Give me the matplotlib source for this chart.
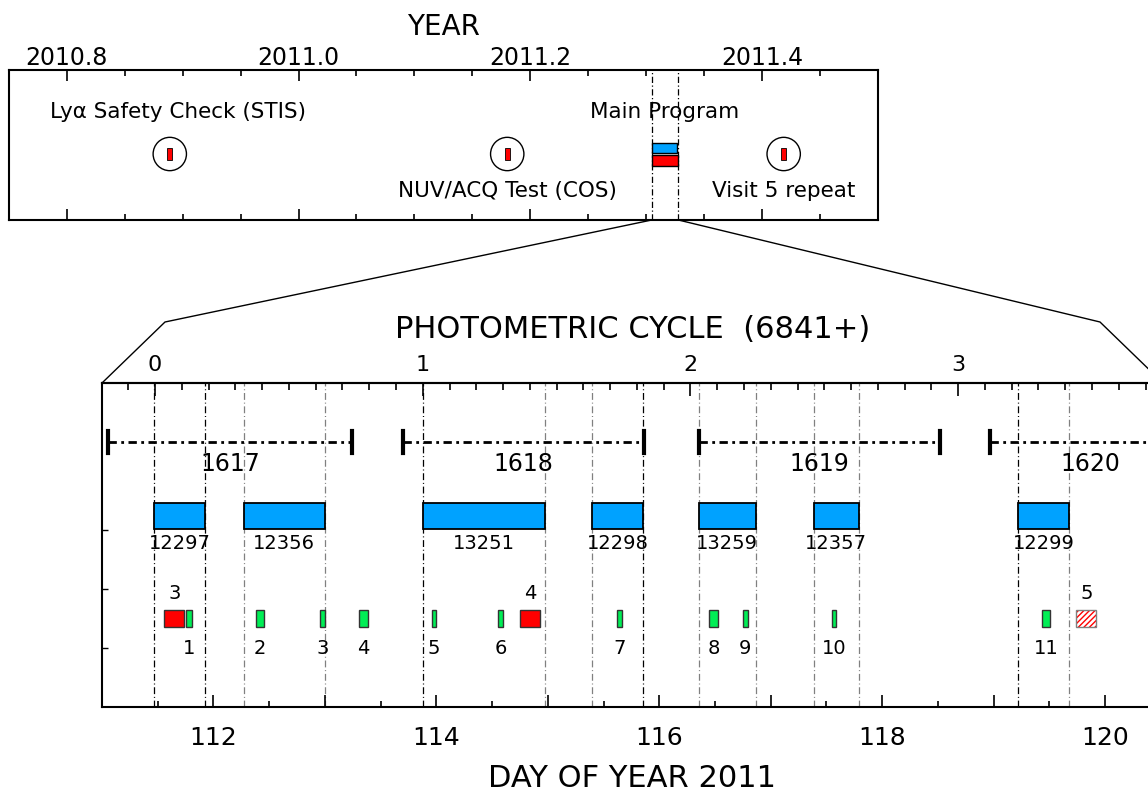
import matplotlib
matplotlib.use('Agg')
import matplotlib.pyplot as plt
from matplotlib.lines import Line2D
from matplotlib.ticker import MultipleLocator, FixedLocator, FuncFormatter

# ---- data ----
# top panel (decimal year)
check_names = ['Ly\u03b1 Safety Check (STIS)', 'NUV/ACQ Test (COS)', 'Visit 5 repeat']
check_year = [2010.889, 2011.180, 2011.4184]
check_label_year = [2010.896, 2011.180, 2011.4184]
check_label_pos = ['above', 'below', 'below']
main_start = 2011.3046
main_end = 2011.3276
main_blue_end = 2011.3264

# bottom panel (day of year 2011)
programs = ['12297', '12356', '13251', '12298', '13259', '12357', '12299']
prog_start = [111.469, 112.271, 113.882, 115.395, 116.356, 117.388, 119.222]
prog_end = [111.927, 113.001, 114.978, 115.853, 116.864, 117.789, 119.677]
left_edge_col = ['k', 'gray', 'k', 'gray', 'gray', 'gray', 'k']
right_edge_col = ['k', 'gray', 'gray', 'k', 'gray', 'gray', 'gray']

visit_names = ['1617', '1618', '1619', '1620']
visit_start = [111.057, 113.700, 116.356, 118.968]
visit_end = [113.246, 115.866, 118.517, 120.76]

test_labels = ['1', '2', '3', '4', '5', '6', '7', '8', '9', '10', '11']
test_day = [111.781, 112.416, 112.980, 113.346, 113.980, 114.576, 115.642, 116.488, 116.770, 117.568, 119.473]
test_width = [0.048, 0.075, 0.042, 0.075, 0.040, 0.040, 0.044, 0.075, 0.044, 0.044, 0.072]

red_labels = ['3', '4', '5']
red_day = [111.649, 114.842, 119.832]
red_width = [0.18, 0.18, 0.18]
red_done = [True, True, False]

cycle0_day = 111.476
period = 2.402
cycle_ticks = [0, 1, 2, 3]

BLUE = '#00a2ff'
GREEN = '#00ee55'
RED = '#ff0000'

W, H = 1148, 793
fig = plt.figure(figsize=(W / 100, H / 100), dpi=100)

def box(x0, y0, x1, y1):
    # pixel box (top-left origin) -> figure fraction
    return [x0 / W, 1 - y1 / H, (x1 - x0) / W, (y1 - y0) / H]

# ---------------- top panel ----------------
ax1 = fig.add_axes(box(8.6, 70, 878.3, 220))
ax1.set_xlim(2010.75, 2011.5)
ax1.set_ylim(0, 1)
ax1.set_yticks([])
for s in ax1.spines.values():
    s.set_linewidth(1.5)
ax1.xaxis.set_major_locator(MultipleLocator(0.2))
ax1.xaxis.set_minor_locator(MultipleLocator(0.05))
ax1.xaxis.set_major_formatter(FuncFormatter(lambda v, p: f'{v:.1f}'))
ax1.tick_params(axis='x', which='both', direction='in', top=True, bottom=True,
                labeltop=True, labelbottom=False, width=1.2)
ax1.tick_params(axis='x', which='major', length=8, pad=0, labelsize=17)
ax1.tick_params(axis='x', which='minor', length=4.5)
ax1.xaxis.set_label_position('top')
ax1.set_xlabel('YEAR', fontsize=20, labelpad=8)

ax1.scatter(check_year, [0.44] * 3, s=24 ** 2, facecolors='none', edgecolors='k', linewidths=1, zorder=3)
ax1.bar(check_year, 0.08, width=0.004, bottom=0.40, color=RED, edgecolor='k', linewidth=0.6, zorder=4)
for name, yr, pos in zip(check_names, check_label_year, check_label_pos):
    ax1.text(yr, 0.72 if pos == 'above' else 0.193, name, ha='center', va='center', fontsize=15.5)

for x in (main_start, main_end):
    ax1.axvline(x, color='k', lw=0.9, dashes=(5, 2, 1, 2))
ax1.bar(main_start, 0.066, width=main_blue_end - main_start, bottom=0.447, align='edge',
        color=BLUE, edgecolor='k', linewidth=1, zorder=4)
ax1.bar(main_start, 0.073, width=main_end - main_start, bottom=0.36, align='edge',
        color=RED, edgecolor='k', linewidth=1, zorder=4)
ax1.text((main_start + main_end) / 2, 0.72, 'Main Program', ha='center', va='center', fontsize=15.5)

# ---------------- bottom panel ----------------
ax2 = fig.add_axes(box(102, 383, 1163, 707))
ax2.set_xlim(111, 120.52)
ax2.set_ylim(0, 5.5)
for s in ax2.spines.values():
    s.set_linewidth(1.5)
ax2.xaxis.set_major_locator(MultipleLocator(1))
ax2.xaxis.set_minor_locator(MultipleLocator(0.5))
ax2.xaxis.set_major_formatter(FuncFormatter(lambda v, p: f'{v:.0f}' if round(v) % 2 == 0 else ''))
ax2.tick_params(axis='x', which='both', direction='in', top=False, width=1.2)
ax2.tick_params(axis='x', which='major', length=9, pad=14, labelsize=18)
ax2.tick_params(axis='x', which='minor', length=4.5)
ax2.set_xlabel('DAY OF YEAR 2011', fontsize=22, labelpad=10)
ax2.set_yticks([1, 2, 3])
ax2.set_yticklabels([])
ax2.tick_params(axis='y', direction='in', length=4, width=1)

sec = ax2.secondary_xaxis('top', functions=(lambda d: (d - cycle0_day) / period,
                                            lambda c: c * period + cycle0_day))
sec.xaxis.set_major_locator(FixedLocator(cycle_ticks))
sec.xaxis.set_minor_locator(MultipleLocator(0.1))
sec.xaxis.set_major_formatter(FuncFormatter(lambda v, p: f'{v:.0f}'))
sec.tick_params(axis='x', which='both', direction='in', width=1.2)
sec.tick_params(axis='x', which='major', length=9, pad=6, labelsize=16)
sec.tick_params(axis='x', which='minor', length=5)
sec.spines['top'].set_linewidth(1.5)
ax2.text(0.5, 1.164, 'PHOTOMETRIC CYCLE  (6841+)', transform=ax2.transAxes,
         ha='center', va='center', fontsize=22)

# program windows
for i, name in enumerate(programs):
    ax2.axvline(prog_start[i], color=left_edge_col[i], lw=0.9, dashes=(5.5, 2.2, 0.8, 2.2), zorder=1)
    ax2.axvline(prog_end[i], color=right_edge_col[i], lw=0.9, dashes=(5.5, 2.2, 0.8, 2.2), zorder=1)
ax2.bar(prog_start, 0.45, width=[e - s for s, e in zip(prog_start, prog_end)], bottom=3.02,
        align='edge', color=BLUE, edgecolor='k', linewidth=1.3, zorder=3)
for s, e, name in zip(prog_start, prog_end, programs):
    ax2.text((s + e) / 2, 2.78, name, ha='center', va='center', fontsize=14)

# visit spans
for s, e, name in zip(visit_start, visit_end, visit_names):
    ax2.plot([s, e], [4.5, 4.5], color='k', lw=2, dashes=(3, 1.6, 1, 1.6), zorder=4)
    ax2.plot([s, s], [4.32, 4.68], color='k', lw=3, zorder=4)
    ax2.plot([e, e], [4.32, 4.68], color='k', lw=3, zorder=4)
    ax2.text((s + e) / 2, 4.12, name, ha='center', va='center', fontsize=17)

# test observations
ax2.bar(test_day, 0.3, width=test_width, bottom=1.35, color=GREEN, edgecolor='#333333', linewidth=1, zorder=3)
for d, lab in zip(test_day, test_labels):
    ax2.text(d, 1.0, lab, ha='center', va='center', fontsize=14)

for d, w, lab, done in zip(red_day, red_width, red_labels, red_done):
    if done:
        ax2.bar(d, 0.3, width=w, bottom=1.35, color=RED, edgecolor='#333333', linewidth=1, zorder=3)
    else:
        ax2.bar(d, 0.3, width=w, bottom=1.35, color='white', edgecolor=RED, hatch='//////',
                linewidth=0, zorder=3)
        ax2.bar(d, 0.3, width=w, bottom=1.35, fill=False, edgecolor='gray', linewidth=1, zorder=4)
    ax2.text(d, 1.93, lab, ha='center', va='center', fontsize=14)

# ---------------- zoom connectors ----------------
inv = fig.transFigure.inverted()
for yr, corner, sign in ((main_start, (0, 1), 1), (main_end, (1, 1), -1)):
    p0 = ax1.transData.transform((yr, 0))
    p2 = ax2.transAxes.transform(corner)
    p1 = (p2[0] + sign * 63, p2[1] + 61)
    pts = inv.transform([p0, p1, p2])
    fig.add_artist(Line2D(pts[:, 0], pts[:, 1], color='k', lw=1, transform=fig.transFigure))

fig.savefig('out.png', dpi=100)
